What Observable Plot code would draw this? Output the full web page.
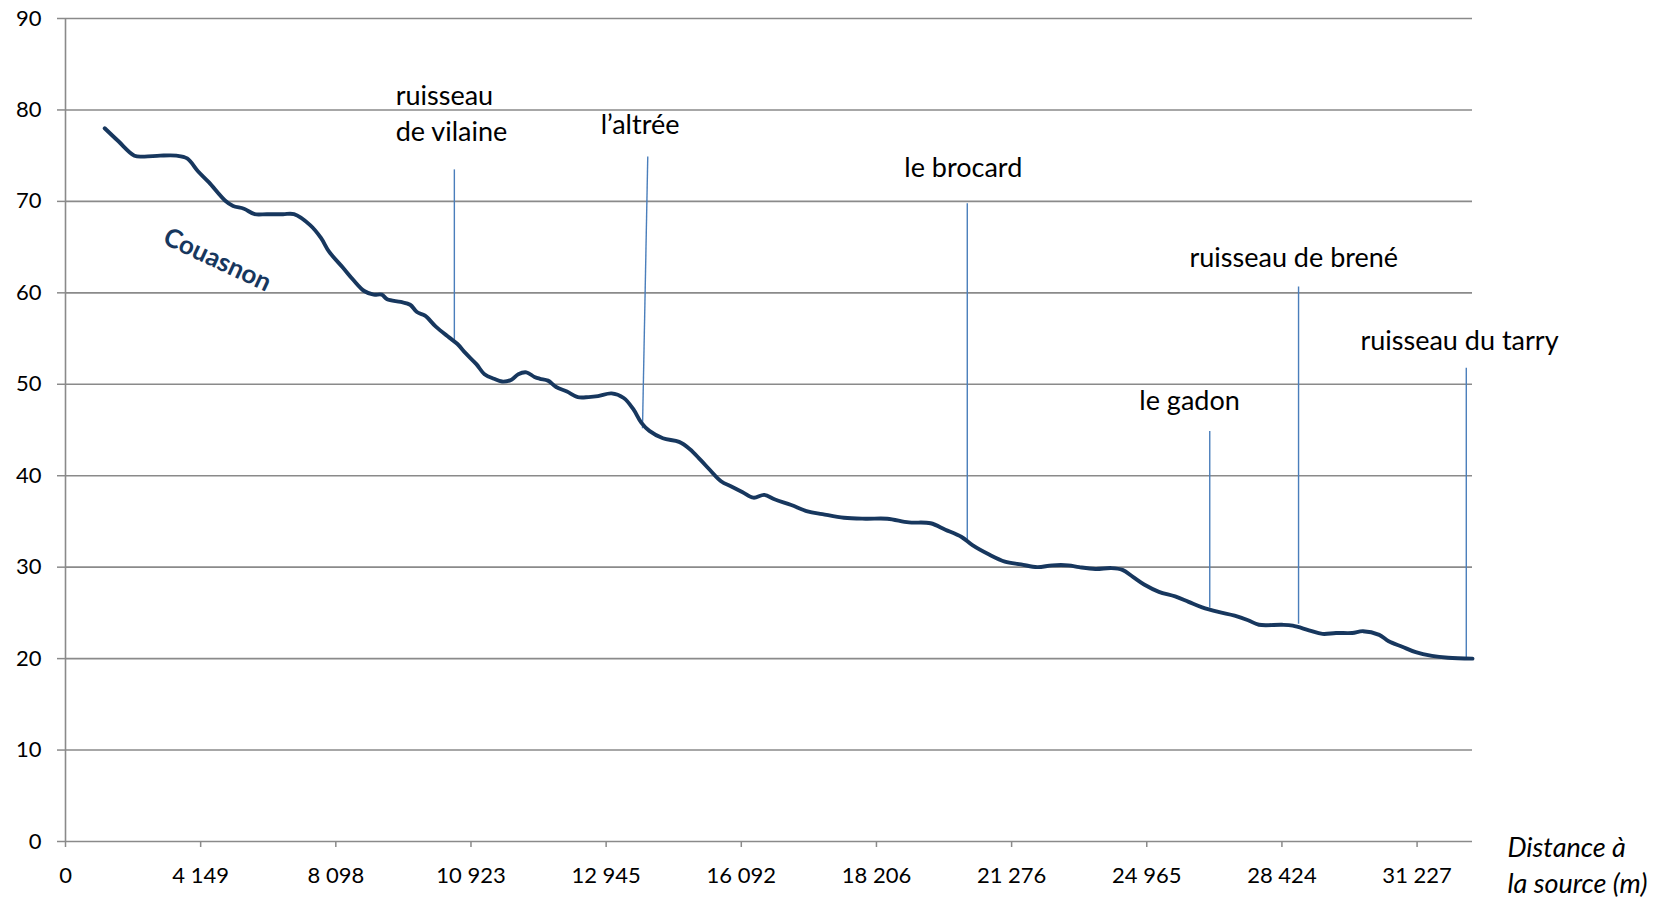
<!DOCTYPE html>
<html>
<head>
<meta charset="utf-8">
<script src="https://cdn.jsdelivr.net/npm/d3@7"></script>
<script src="https://cdn.jsdelivr.net/npm/@observablehq/plot@0.6"></script>
<style>
  html, body { margin: 0; padding: 0; background: #fff; }
  #chart svg { display: block; }
</style>
</head>
<body>
<div id="chart"></div>
<script>
// Category-axis tick labels (distance to source, m), one per tick interval
const tickLabels = ["0", "4 149", "8 098", "10 923", "12 945", "16 092", "18 206", "21 276", "24 965", "28 424", "31 227"];
const tickPos = d3.range(0, tickLabels.length);
const axisEnd = 10.41;
const yTicks = d3.range(0, 100, 10);

// River profile: position along category axis (tick units) and elevation (m)
const riverPos = [0.29,0.39,0.51,0.58,0.70,0.82,0.90,0.98,1.06,1.18,1.24,1.32,1.40,1.49,1.61,1.69,1.81,1.89,1.95,2.05,2.13,2.21,2.28,2.34,2.38,2.48,2.55,2.60,2.66,2.74,2.84,2.90,2.96,3.04,3.10,3.17,3.23,3.30,3.35,3.41,3.47,3.51,3.57,3.63,3.71,3.79,3.87,3.94,4.04,4.13,4.20,4.26,4.32,4.42,4.54,4.62,4.70,4.77,4.85,4.93,5.01,5.09,5.17,5.25,5.37,5.49,5.60,5.76,5.92,6.08,6.24,6.40,6.51,6.63,6.71,6.83,6.95,7.07,7.19,7.30,7.42,7.50,7.62,7.74,7.82,7.90,7.98,8.09,8.21,8.31,8.41,8.53,8.65,8.75,8.83,9.00,9.08,9.20,9.30,9.40,9.52,9.60,9.72,9.79,9.89,9.99,10.11,10.23,10.41];
const riverElev = [78.0,76.6,75.0,74.9,75.0,75.0,74.7,73.3,72.1,70.1,69.5,69.2,68.6,68.6,68.6,68.6,67.4,66.0,64.5,62.8,61.4,60.2,59.8,59.8,59.3,59.0,58.7,57.9,57.5,56.3,55.1,54.4,53.4,52.2,51.1,50.6,50.3,50.5,51.1,51.3,50.8,50.6,50.4,49.7,49.2,48.6,48.6,48.7,49.0,48.5,47.3,45.8,44.9,44.1,43.7,42.9,41.7,40.6,39.4,38.8,38.2,37.6,37.9,37.4,36.8,36.1,35.8,35.4,35.3,35.3,34.9,34.8,34.1,33.3,32.4,31.4,30.6,30.3,30.0,30.2,30.2,30.0,29.8,29.9,29.7,28.9,28.1,27.3,26.8,26.2,25.6,25.1,24.7,24.2,23.7,23.7,23.6,23.1,22.7,22.8,22.8,23.0,22.6,21.9,21.3,20.7,20.3,20.1,20.0];

// Tributaries: names, marker line (top/bottom) and label anchor
const tribNames = ["ruisseau\nde vilaine", "l’altrée", "le brocard", "le gadon", "ruisseau de brené", "ruisseau du tarry"];
const tribTopX = [2.877, 4.308, 6.672, 8.466, 9.123, 10.364];
const tribTopY = [73.5, 74.9, 69.8, 44.9, 60.7, 51.8];
const tribBotX = [2.877, 4.269, 6.672, 8.466, 9.123, 10.364];
const tribBotY = [54.6, 45.2, 33.0, 25.6, 23.8, 20.1];
const tribLabelX = [2.443, 3.960, 6.206, 7.945, 8.316, 9.581];
const tribLabelY = [79.8, 78.6, 73.9, 48.4, 64.0, 55.0];

const river = riverPos.map((p, i) => ({pos: p, elev: riverElev[i]}));
const tribs = tribNames.map((n, i) => ({
  name: n, x1: tribTopX[i], y1: tribTopY[i], x2: tribBotX[i], y2: tribBotY[i],
  lx: tribLabelX[i], ly: tribLabelY[i]
}));

const chart = Plot.plot({
  width: 1675,
  height: 899,
  marginLeft: 65,
  marginRight: 203,
  marginTop: 18,
  marginBottom: 58,
  x: {domain: [0, axisEnd]},
  y: {domain: [0, 90]},
  style: {fontFamily: "Lato, sans-serif", fontSize: "22px", color: "#000", background: "#fff"},
  marks: [
    Plot.ruleY(yTicks, {stroke: "#8a8a8a", strokeWidth: 1.6}),
    Plot.ruleX([0], {stroke: "#8a8a8a", strokeWidth: 1.6}),
    Plot.axisY({ticks: yTicks, tickSize: 8, tickPadding: 16, stroke: "#8a8a8a", strokeWidth: 1.5, fill: "#000", label: null}),
    Plot.axisX({ticks: tickPos, tickFormat: i => tickLabels[i], tickSize: 6, tickPadding: 20, stroke: "#8a8a8a", strokeWidth: 1.5, fill: "#000", label: null}),
    Plot.link(tribs, {x1: "x1", y1: "y1", x2: "x2", y2: "y2", stroke: "#4a7ebb", strokeWidth: 1.4}),
    Plot.line(river, {x: "pos", y: "elev", stroke: "#17375e", strokeWidth: 3.9, curve: "catmull-rom"}),
    Plot.text(tribs, {x: "lx", y: "ly", text: "name", textAnchor: "start", fontSize: 27, lineHeight: 1.3, fill: "#000"}),
    Plot.text(["Couasnon"], {x: 1.123, y: 63.6, text: d => d, rotate: 25, fontWeight: "bold", fontSize: 26, fill: "#17375e"}),
    Plot.text(["Distance à\nla source (m)"], {x: axisEnd, y: 0, text: d => d, dx: 35, dy: -10, textAnchor: "start", lineAnchor: "top", fontStyle: "italic", fontSize: 27, lineHeight: 1.33, fill: "#000"})
  ]
});
document.getElementById("chart").appendChild(chart);
</script>
</body>
</html>
